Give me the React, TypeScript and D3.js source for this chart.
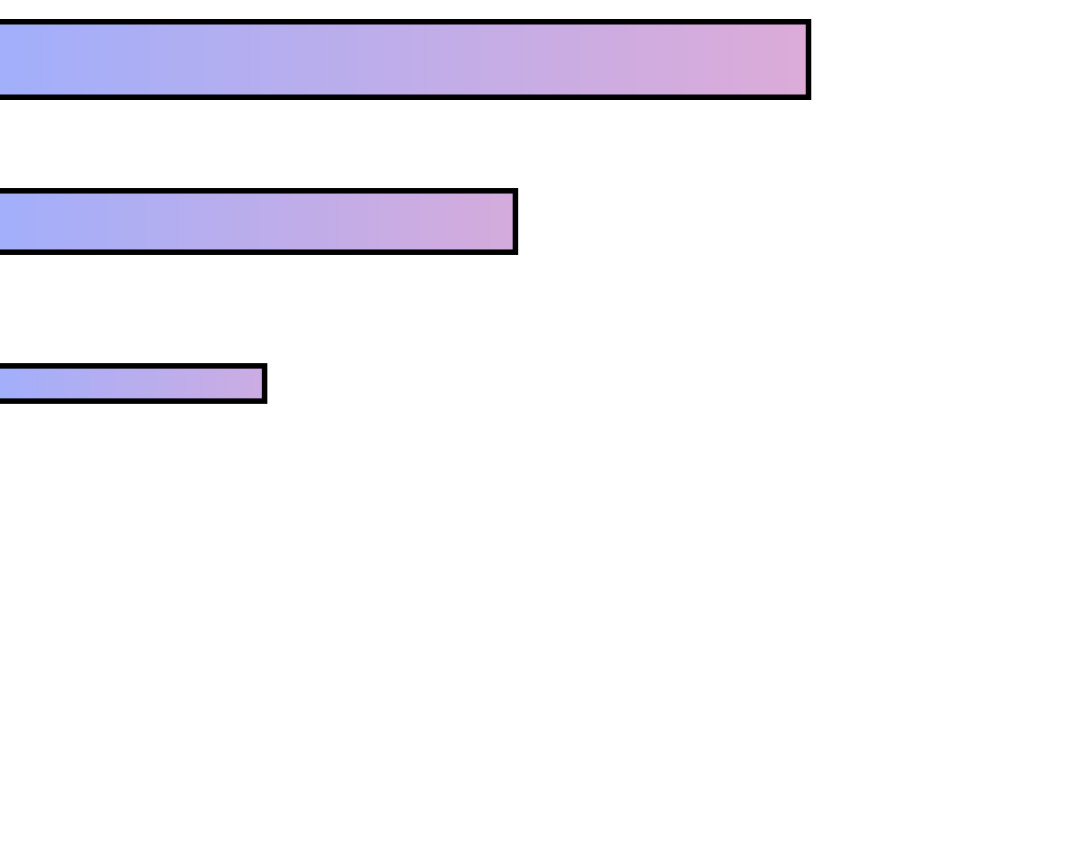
import { useMemo } from 'react';
import * as d3 from 'd3';

// three bars, the left end runs off the page
const categories = ['A', 'B', 'C'];
const values = [62, 39.8, 20.8];
const weights = [37.5, 30.5, 17.5];

const width = 1080;
const height = 844;
const startColor = '#a1affb';
const endColor = '#dcabd8';

export default function App() {
  const xScale = useMemo(() => d3.scaleLinear().domain([0, 62]).range([-10, 808.5]), []);
  const yScale = useMemo(() => d3.scalePoint().domain(categories).range([59.5, 383.5]), []);
  const tScale = useMemo(() => d3.scaleLinear().domain([0, 37.5]).range([0, 75.5]), []);
  // longer bars reach further into the pink end
  const endScale = useMemo(
    () => d3.scalePow<string>().exponent(0.3).domain([0, 62]).range([startColor, endColor]).interpolate(d3.interpolateRgb),
    []
  );

  const bars = categories.map((c, i) => {
    const h = tScale(weights[i]);
    const cy = yScale(c) as number;
    return (
      <rect
        key={`bar-${c}`}
        x={xScale(0)}
        y={cy - h / 2}
        width={xScale(values[i]) - xScale(0)}
        height={h}
        fill={`url(#barGrad-${i})`}
        stroke="#000"
        strokeWidth={5.5}
      />
    );
  });

  return (
    <svg
      width={width}
      height={height}
      style={{ position: 'absolute', left: 0, top: 0, background: '#fff' }}
    >
      <defs>
        {categories.map((c, i) => (
          <linearGradient key={`grad-${c}`} id={`barGrad-${i}`} x1="0" y1="0" x2="1" y2="0">
            <stop offset="0%" stopColor={startColor} />
            <stop offset="100%" stopColor={endScale(values[i])} />
          </linearGradient>
        ))}
      </defs>
      {bars}
    </svg>
  );
}
